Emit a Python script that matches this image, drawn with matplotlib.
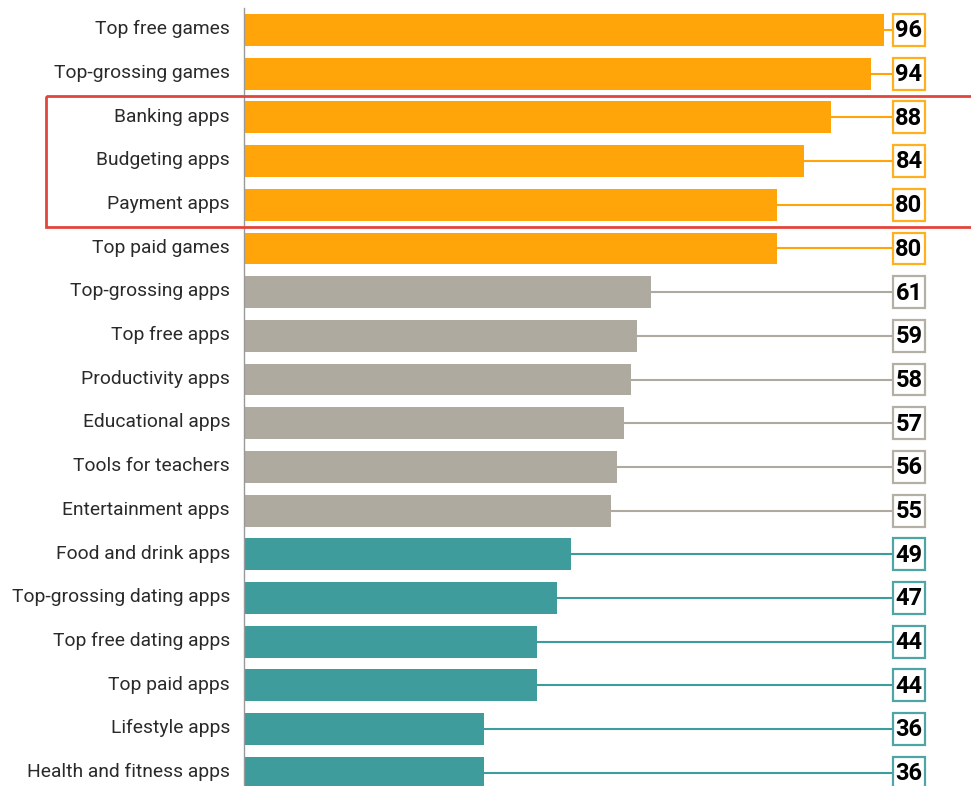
import matplotlib.pyplot as plt
import matplotlib.transforms as mtransforms
from matplotlib.patches import Rectangle

categories = [
    "Top free games", "Top-grossing games", "Banking apps", "Budgeting apps",
    "Payment apps", "Top paid games", "Top-grossing apps", "Top free apps",
    "Productivity apps", "Educational apps", "Tools for teachers",
    "Entertainment apps", "Food and drink apps", "Top-grossing dating apps",
    "Top free dating apps", "Top paid apps", "Lifestyle apps",
    "Health and fitness apps",
]
values = [96, 94, 88, 84, 80, 80, 61, 59, 58, 57, 56, 55, 49, 47, 44, 44, 36, 36]
groups = ["games"] * 6 + ["mid"] * 6 + ["low"] * 6
highlight = ["Banking apps", "Budgeting apps", "Payment apps"]

colors = {"games": "#FFA50A", "mid": "#AFAA9F", "low": "#3E9C9C"}
box_edge = {"games": "#FFB01F", "mid": "#B5B0A6", "low": "#4FA5A5"}

plt.rcParams['font.family'] = ['Roboto', 'DejaVu Sans']

fig = plt.figure(figsize=(9.71, 7.86), dpi=100)
W, H = 971, 786
x0, x1 = 244, 971
y_top, y_bot = 8, 786
ax = fig.add_axes([x0 / W, 0, (x1 - x0) / W, (y_bot - y_top) / H])

px_per_unit = 640 / 96
row_px = 43.69
ax.set_xlim(0, (x1 - x0) / px_per_unit)
ax.set_ylim((y_bot - 30) / row_px, -(30 - y_top) / row_px)

ypos = list(range(len(categories)))
bar_colors = [colors[g] for g in groups]

box_left = (893 - x0) / px_per_unit
box_w = 32 / px_per_unit
box_h = 0.73

for y, v, g in zip(ypos, values, groups):
    ax.plot([v, box_left], [y, y], color=colors[g], lw=1.5, zorder=1,
            solid_capstyle='butt')

ax.barh(ypos, values, height=0.73, color=bar_colors, zorder=2)

for y, v, g in zip(ypos, values, groups):
    ax.add_patch(Rectangle((box_left, y - box_h / 2), box_w, box_h,
                           facecolor='white', edgecolor=box_edge[g], lw=1.6,
                           zorder=3, clip_on=False))
    ax.text(box_left + box_w / 2, y + 0.02, str(v), ha='center', va='center',
            fontsize=17, fontweight='bold', color='black', zorder=4,
            clip_on=False)

# highlight frame around finance apps
hi = [categories.index(c) for c in highlight]
x_left = (46 - x0) / px_per_unit
ax.add_patch(Rectangle((x_left, min(hi) - 0.5), 160, len(hi),
                       facecolor='none', edgecolor='#E2453C', lw=2,
                       zorder=5, clip_on=False))

ax.set_yticks(ypos)
ax.set_yticklabels(categories, fontsize=13.9, color='#2a2a2a')
ax.tick_params(axis='y', length=0, pad=10)
shift = mtransforms.ScaledTranslation(0, 2 / 72, fig.dpi_scale_trans)
for lab in ax.get_yticklabels():
    lab.set_transform(lab.get_transform() + shift)
ax.set_xticks([])
for s in ['top', 'right', 'bottom']:
    ax.spines[s].set_visible(False)
ax.spines['left'].set_color('#999999')
ax.spines['left'].set_linewidth(1)

fig.savefig('out.png', dpi=100)
